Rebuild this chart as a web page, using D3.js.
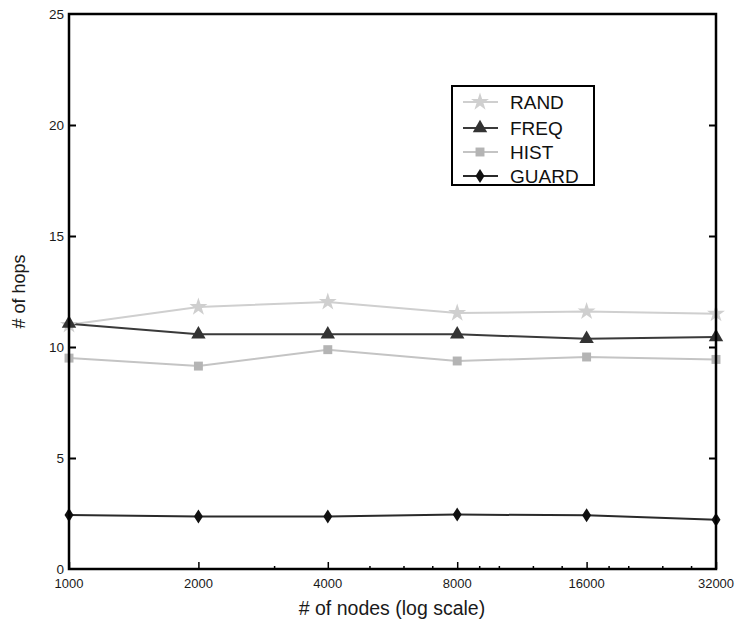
<!DOCTYPE html>
<html><head><meta charset="utf-8">
<script src="https://cdn.jsdelivr.net/npm/d3@7"></script>
<style>body{margin:0;background:#fff;}svg{display:block;font-family:"Liberation Sans",Arial,sans-serif;}</style>
</head><body><svg id="c" width="738" height="632"></svg>
<script>
const nodes = [1000, 2000, 4000, 8000, 16000, 32000];
const minorTicks = [3000, 5000, 6000, 7000, 9000, 10000, 12000, 14000, 18000, 20000, 24000, 28000];
const yTicks = [0, 5, 10, 15, 20, 25];
const randVals = [11.0, 11.8, 12.03, 11.53, 11.6, 11.5];
const freqVals = [11.05, 10.57, 10.57, 10.57, 10.37, 10.45];
const histVals = [9.5, 9.14, 9.88, 9.37, 9.55, 9.44];
const guardVals = [2.43, 2.36, 2.36, 2.45, 2.42, 2.22];
const seriesNames = ["RAND", "FREQ", "HIST", "GUARD"];

const svg = d3.select("#c");
const L = 69, R = 716, T = 14, B = 569;
const x = d3.scaleLog().base(2).domain([1000, 32000]).range([L, R]);
const y = d3.scaleLinear().domain([0, 25]).range([B, T]);

const series = [
  {name: "RAND", vals: randVals, line: "#cfcfcf", fill: "#cfcfcf", sym: d3.symbolStar, size: 100},
  {name: "FREQ", vals: freqVals, line: "#3a3a3a", fill: "#333", sym: d3.symbolTriangle, size: 90},
  {name: "HIST", vals: histVals, line: "#c4c4c4", fill: "#b4b4b4", sym: d3.symbolSquare, size: 80},
  {name: "GUARD", vals: guardVals, line: "#2a2a2a", fill: "#111", sym: "diamond", size: 0}
];

const diamondPath = "M0,-7L4.5,0L0,7L-4.5,0Z";
function symPath(s){ return s.sym === "diamond" ? diamondPath : d3.symbol().type(s.sym).size(s.size)(); }

// lines
const line = d3.line().x((d,i)=>x(nodes[i])).y(d=>y(d));
series.forEach(s=>{
  svg.append("path").attr("d", line(s.vals)).attr("fill","none")
    .attr("stroke", s.line).attr("stroke-width", 2);
});
series.forEach(s=>{
  svg.selectAll(null).data(s.vals).enter().append("path")
    .attr("d", symPath(s))
    .attr("transform",(d,i)=>`translate(${x(nodes[i])},${y(d)})`)
    .attr("fill", s.fill);
});

// frame
svg.append("rect").attr("x",L).attr("y",T).attr("width",R-L).attr("height",B-T)
  .attr("fill","none").attr("stroke","#000").attr("stroke-width",2.5);

// x axis ticks (inward)
const xAxis = d3.axisTop(x).tickValues(nodes).tickSize(7).tickFormat("");
const gx = svg.append("g").attr("transform",`translate(0,${B})`).call(xAxis);
gx.select(".domain").remove();
gx.selectAll("line").attr("stroke-width",1.5);
const xMinor = d3.axisTop(x).tickValues(minorTicks).tickSize(3).tickFormat("");
const gxm = svg.append("g").attr("transform",`translate(0,${B})`).call(xMinor);
gxm.select(".domain").remove();
gxm.selectAll("line").attr("stroke-width",1.5);
svg.selectAll(null).data(nodes).enter().append("text")
  .attr("x",d=>x(d)).attr("y",B+19).attr("text-anchor","middle")
  .attr("font-size",13).attr("fill","#1a1a1a").text(d=>d);

// y axis
const yL = d3.axisRight(y).tickValues(yTicks.slice(1,-1)).tickSize(7).tickFormat("");
const gyl = svg.append("g").attr("transform",`translate(${L},0)`).call(yL);
gyl.select(".domain").remove(); gyl.selectAll("line").attr("stroke-width",2);
const yR = d3.axisLeft(y).tickValues(yTicks.slice(1,-1)).tickSize(7).tickFormat("");
const gyr = svg.append("g").attr("transform",`translate(${R},0)`).call(yR);
gyr.select(".domain").remove(); gyr.selectAll("line").attr("stroke-width",2);
svg.selectAll(null).data(yTicks).enter().append("text")
  .attr("x",L-5).attr("y",d=>y(d)+4.5).attr("text-anchor","end")
  .attr("font-size",13.5).attr("fill","#1a1a1a").text(d=>d);

// axis titles
svg.append("text").attr("x",392).attr("y",615).attr("text-anchor","middle")
  .attr("font-size",19.5).attr("fill","#1a1a1a").text("# of nodes (log scale)");
svg.append("text").attr("transform",`translate(25,${(T+B)/2}) rotate(-90)`)
  .attr("text-anchor","middle").attr("font-size",18).attr("fill","#1a1a1a").text("# of hops");

// legend
const lg = svg.append("g");
lg.append("rect").attr("x",452).attr("y",86).attr("width",142).attr("height",99)
  .attr("fill","#fff").attr("stroke","#000").attr("stroke-width",2);
const rowY = [102, 128, 152, 176];
series.forEach((s,i)=>{
  lg.append("line").attr("x1",463).attr("x2",498).attr("y1",rowY[i]).attr("y2",rowY[i])
    .attr("stroke",s.line).attr("stroke-width",2);
  lg.append("path").attr("d",symPath(s)).attr("transform",`translate(480,${rowY[i]})`).attr("fill",s.fill);
  lg.append("text").attr("x",510).attr("y",rowY[i]+6.5).attr("font-size",19).attr("fill","#111").text(seriesNames[i]);
});
</script></body></html>
